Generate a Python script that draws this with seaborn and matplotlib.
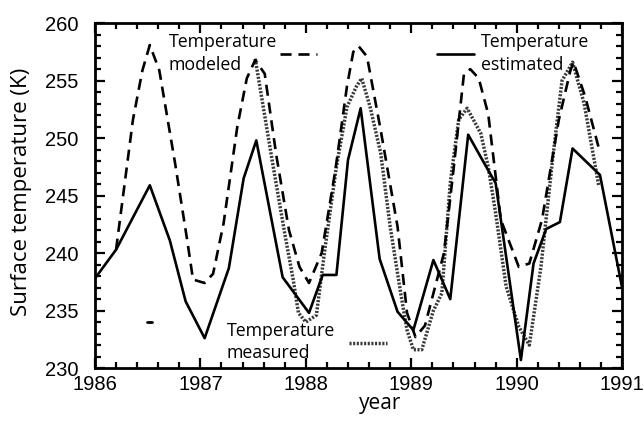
import numpy as np
import pandas as pd
import matplotlib
matplotlib.use("Agg")
import matplotlib.pyplot as plt
from matplotlib.ticker import MultipleLocator
import seaborn as sns

# --- data ---
est_year = [1986.00, 1986.20, 1986.52, 1986.71, 1986.86, 1987.04, 1987.27, 1987.41,
            1987.53, 1987.78, 1988.03, 1988.16, 1988.29, 1988.40, 1988.52, 1988.70,
            1988.87, 1989.02, 1989.21, 1989.37, 1989.54, 1989.73, 1989.80, 1990.04,
            1990.16, 1990.28, 1990.41, 1990.53, 1990.79, 1991.00]
est_temp = [237.8, 240.3, 245.9, 241.1, 235.8, 232.6, 238.7, 246.5,
            249.8, 237.9, 234.8, 238.1, 238.1, 248.1, 252.6, 239.5,
            234.9, 233.3, 239.4, 236.0, 250.3, 247.2, 246.1, 230.7,
            239.1, 242.1, 242.7, 249.1, 246.8, 237.0]

mod_year = [1986.20, 1986.36, 1986.45, 1986.52, 1986.61, 1986.76, 1986.87, 1986.93,
            1987.04, 1987.12, 1987.22, 1987.35, 1987.44, 1987.52, 1987.61, 1987.72,
            1987.84, 1987.94, 1988.03, 1988.15, 1988.28, 1988.39, 1988.45, 1988.50,
            1988.58, 1988.71, 1988.87, 1988.96, 1989.04, 1989.13, 1989.31, 1989.40,
            1989.50, 1989.56, 1989.64, 1989.73, 1989.85, 1990.02, 1990.12, 1990.24,
            1990.40, 1990.51, 1990.54, 1990.65, 1990.78]
mod_temp = [240.3, 251.6, 255.9, 258.1, 255.9, 247.8, 241.4, 237.7,
            237.4, 238.2, 242.6, 251.0, 255.2, 256.8, 255.6, 248.5,
            242.0, 238.8, 237.4, 240.0, 247.2, 254.5, 257.5, 258.0,
            257.1, 250.7, 242.3, 234.8, 232.7, 233.7, 240.0, 247.2,
            255.6, 256.0, 255.2, 252.1, 242.9, 238.8, 239.1, 242.9,
            251.6, 255.9, 256.6, 253.6, 249.1]

meas_year = [1987.52, 1987.68, 1987.80, 1987.88, 1987.93, 1988.00, 1988.10, 1988.18,
             1988.29, 1988.39, 1988.48, 1988.53, 1988.61, 1988.71, 1988.80, 1988.90,
             1988.96, 1989.02, 1989.10, 1989.21, 1989.29, 1989.37, 1989.45, 1989.53,
             1989.66, 1989.73, 1989.80, 1989.90, 1990.02, 1990.12, 1990.23, 1990.34,
             1990.43, 1990.53, 1990.64, 1990.78]
meas_temp = [256.9, 248.1, 241.7, 237.7, 234.8, 234.0, 234.6, 240.3,
             247.5, 252.7, 254.5, 255.2, 252.7, 248.7, 242.3, 236.5,
             233.3, 231.6, 231.6, 235.0, 236.5, 246.1, 251.6, 252.6,
             250.4, 247.5, 243.5, 237.1, 233.6, 232.0, 238.8, 248.1,
             255.0, 256.6, 253.0, 245.8]

df_est = pd.DataFrame({'year': est_year, 'temp': est_temp})
df_mod = pd.DataFrame({'year': mod_year, 'temp': mod_temp})
df_meas = pd.DataFrame({'year': meas_year, 'temp': meas_temp})

sns.set_theme(style="ticks")
plt.rcParams['font.family'] = ['Open Sans', 'DejaVu Sans']
plt.rcParams['text.color'] = 'black'
plt.rcParams['axes.labelcolor'] = 'black'

fig = plt.figure(figsize=(6.44, 4.29), dpi=100)
ax = fig.add_axes([0.1475, 0.142, 0.8185, 0.804])

sns.lineplot(data=df_meas, x='year', y='temp', ax=ax, color='#3a3a3a',
             linewidth=2.5, sort=False)
ax.lines[-1].set_linestyle((0, (0.6, 0.45)))
h_meas = ax.lines[-1]
sns.lineplot(data=df_mod, x='year', y='temp', ax=ax, color='black',
             linewidth=1.9, sort=False)
ax.lines[-1].set_linestyle((0, (4.2, 2.6)))
h_mod = ax.lines[-1]
sns.lineplot(data=df_est, x='year', y='temp', ax=ax, color='black',
             linewidth=1.9, sort=False)
h_est = ax.lines[-1]

ax.set_xlim(1986, 1991)
ax.set_ylim(230, 260)
ax.xaxis.set_major_locator(MultipleLocator(1))
ax.xaxis.set_minor_locator(MultipleLocator(0.2))
ax.yaxis.set_major_locator(MultipleLocator(5))
ax.yaxis.set_minor_locator(MultipleLocator(1))
ax.tick_params(which='both', direction='in', top=True, right=True, width=1.6,
               colors='black')
ax.tick_params(which='major', length=7, labelsize=14.5)
ax.tick_params(axis='x', which='major', pad=5)
ax.tick_params(axis='y', which='major', pad=12)
ax.tick_params(which='minor', length=4)
for lab in ax.get_xticklabels() + ax.get_yticklabels():
    lab.set_family(['Liberation Sans', 'DejaVu Sans'])
for sp in ax.spines.values():
    sp.set_linewidth(2)
    sp.set_color('black')

ax.set_xlabel('year', fontsize=15)
ax.set_ylabel('Surface temperature (K)', fontsize=16)
ax.xaxis.set_label_coords(0.54, -0.104, transform=ax.transAxes)
ax.xaxis.label.set_va('center')
ax.yaxis.set_label_coords(-0.139, 0.51, transform=ax.transAxes)
ax.yaxis.label.set_va('center')

leg_kw = dict(frameon=False, fontsize=12.8, borderpad=0, borderaxespad=0,
              handlelength=2.1, labelspacing=0.2)
leg1 = ax.legend([h_mod], ['Temperature\nmodeled'], loc='upper left',
                 bbox_to_anchor=(0.14, 0.972), markerfirst=False,
                 handletextpad=0.15, **leg_kw)
ax.add_artist(leg1)
leg2 = ax.legend([h_est], ['Temperature\nestimated'], loc='upper left',
                 bbox_to_anchor=(0.648, 0.972), markerfirst=True,
                 handletextpad=0.4, **leg_kw)
ax.add_artist(leg2)
leg3 = ax.legend([h_meas], ['Temperature\nmeasured'], loc='upper left',
                 bbox_to_anchor=(0.25, 0.135), markerfirst=False,
                 handletextpad=0.8, **leg_kw)
for leg in (leg1, leg2, leg3):
    for t in leg.get_texts():
        t.set_linespacing(1.35)

# small stray legend tick seen in the original
ax.plot([0.098, 0.108], [0.135, 0.135], transform=ax.transAxes, color='black', lw=2)

fig.savefig('out.png', dpi=100)
